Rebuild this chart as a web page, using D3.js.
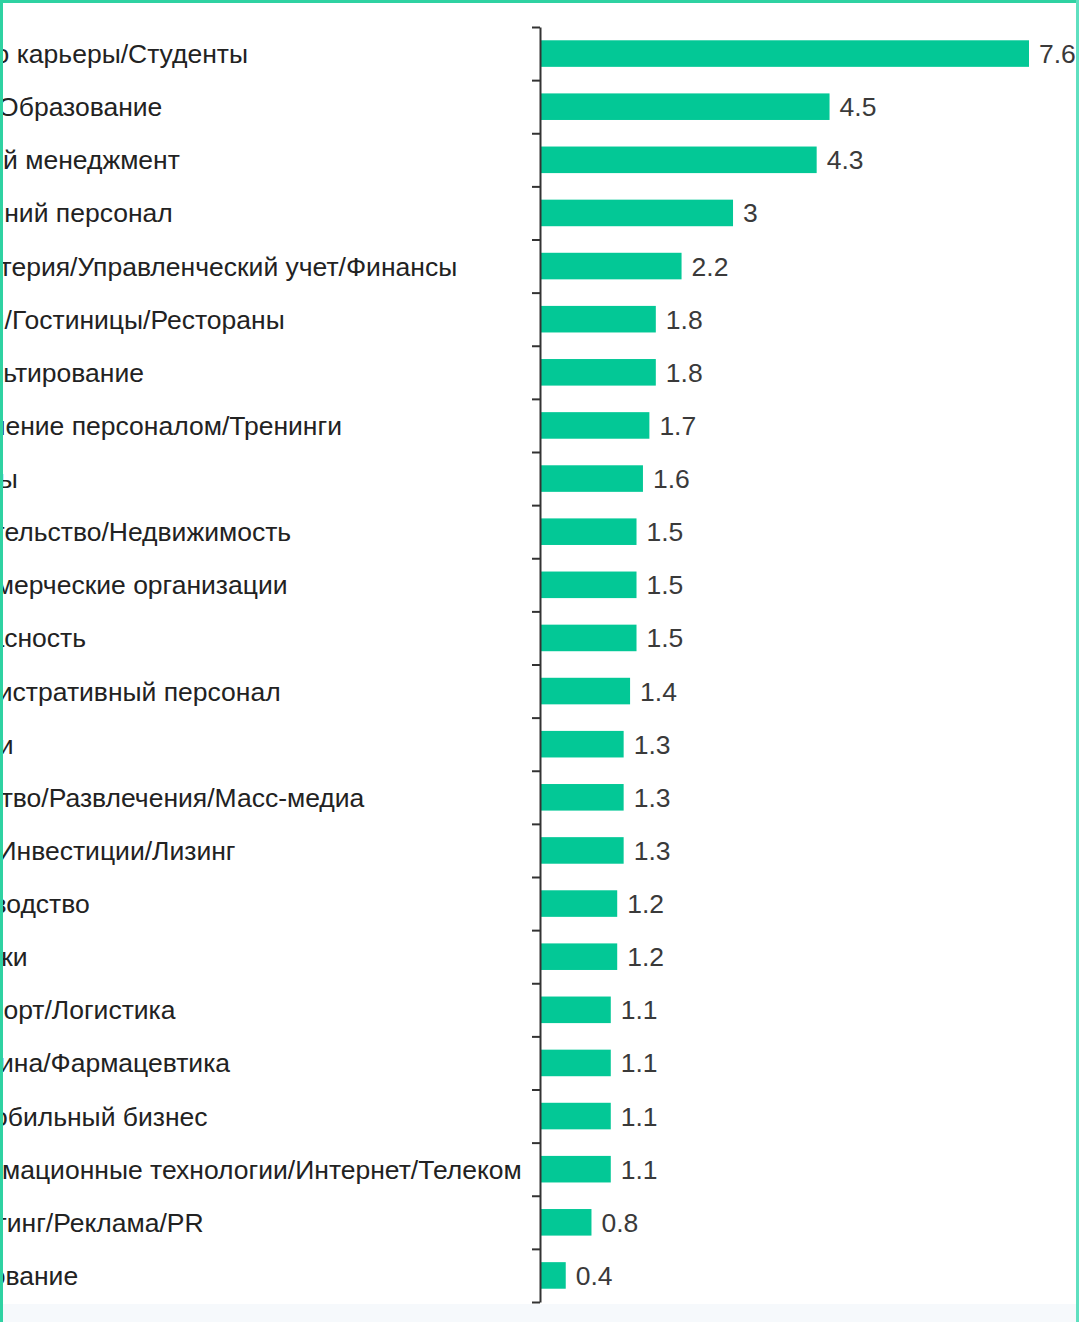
<!DOCTYPE html>
<meta charset="utf-8" />
<script src="https://d3js.org/d3.v7.min.js"></script>
<style>
	body { margin: 0; background: #fff; }
	svg { display: block; font-family: "Liberation Sans", Arial, sans-serif; }
</style>
<div id="chart"></div>
<script>
	// category names (the picture is cropped on the left, so only the tail of each shows)
	var categories = [
		"Начало карьеры/Студенты",
		"Наука/Образование",
		"Высший менеджмент",
		"Домашний персонал",
		"Бухгалтерия/Управленческий учет/Финансы",
		"Туризм/Гостиницы/Рестораны",
		"Консультирование",
		"Управление персоналом/Тренинги",
		"Юристы",
		"Строительство/Недвижимость",
		"Некоммерческие организации",
		"Безопасность",
		"Административный персонал",
		"Закупки",
		"Искусство/Развлечения/Масс-медиа",
		"Банки/Инвестиции/Лизинг",
		"Производство",
		"Продажи",
		"Транспорт/Логистика",
		"Медицина/Фармацевтика",
		"Автомобильный бизнес",
		"Информационные технологии/Интернет/Телеком",
		"Маркетинг/Реклама/PR",
		"Страхование"
	];
	var values = [7.6, 4.5, 4.3, 3, 2.2, 1.8, 1.8, 1.7, 1.6, 1.5, 1.5, 1.5, 1.4,
		1.3, 1.3, 1.3, 1.2, 1.2, 1.1, 1.1, 1.1, 1.1, 0.8, 0.4];

	var W = 1079, H = 1322;
	var axisX = 540, plotTop = 27, plotBottom = 1302;
	var fontSize = 26.5;

	var svg = d3.select("#chart")
		.append("svg")
		.attr("width", W)
		.attr("height", H);

	// faint tint at the very bottom
	svg.append("rect")
		.attr("x", 0).attr("y", 1304)
		.attr("width", W).attr("height", H - 1304)
		.attr("fill", "#f6f9fc");

	var x = d3.scaleLinear().domain([0, 7.6]).range([axisX, 1029]);

	var y = d3.scaleBand()
		.domain(categories)
		.range([plotTop, plotBottom])
		.paddingInner(0.5)
		.paddingOuter(0.25);

	// bars
	svg.append("g")
		.selectAll("rect")
		.data(values)
		.join("rect")
		.attr("x", x(0))
		.attr("y", (d, i) => y(categories[i]))
		.attr("width", d => x(d) - x(0))
		.attr("height", y.bandwidth())
		.attr("fill", "#03c896");

	// value labels
	svg.append("g")
		.selectAll("text")
		.data(values)
		.join("text")
		.attr("x", d => x(d) + 10)
		.attr("y", (d, i) => y(categories[i]) + y.bandwidth() / 2)
		.attr("dy", "0.36em")
		.attr("font-size", fontSize)
		.attr("fill", "#3a3a3a")
		.text(d => d);

	// category labels, left aligned and running off the left edge
	svg.append("g")
		.selectAll("text")
		.data(categories)
		.join("text")
		.attr("x", -83)
		.attr("y", d => y(d) + y.bandwidth() / 2)
		.attr("dy", "0.36em")
		.attr("font-size", fontSize)
		.attr("fill", "#222")
		.text(d => d);

	// category axis: ticks on the band boundaries
	var edges = d3.scaleLinear().domain([0, categories.length]).range([plotTop, plotBottom]);
	var axis = svg.append("g")
		.attr("transform", "translate(" + axisX + ",0)")
		.call(d3.axisLeft(edges)
			.tickValues(d3.range(categories.length + 1))
			.tickFormat("")
			.tickSize(8)
			.tickSizeOuter(0));
	axis.selectAll("path, line")
		.attr("stroke", "#333")
		.attr("stroke-width", 2);

	// green frame of the screenshot
	svg.append("rect").attr("x", 0).attr("y", 0).attr("width", W).attr("height", 3).attr("fill", "#2fd2a2");
	svg.append("rect").attr("x", 0).attr("y", 0).attr("width", 3).attr("height", H).attr("fill", "#2fd2a2");
	svg.append("rect").attr("x", W - 3).attr("y", 0).attr("width", 3).attr("height", H).attr("fill", "#5fe0c0");
</script>
